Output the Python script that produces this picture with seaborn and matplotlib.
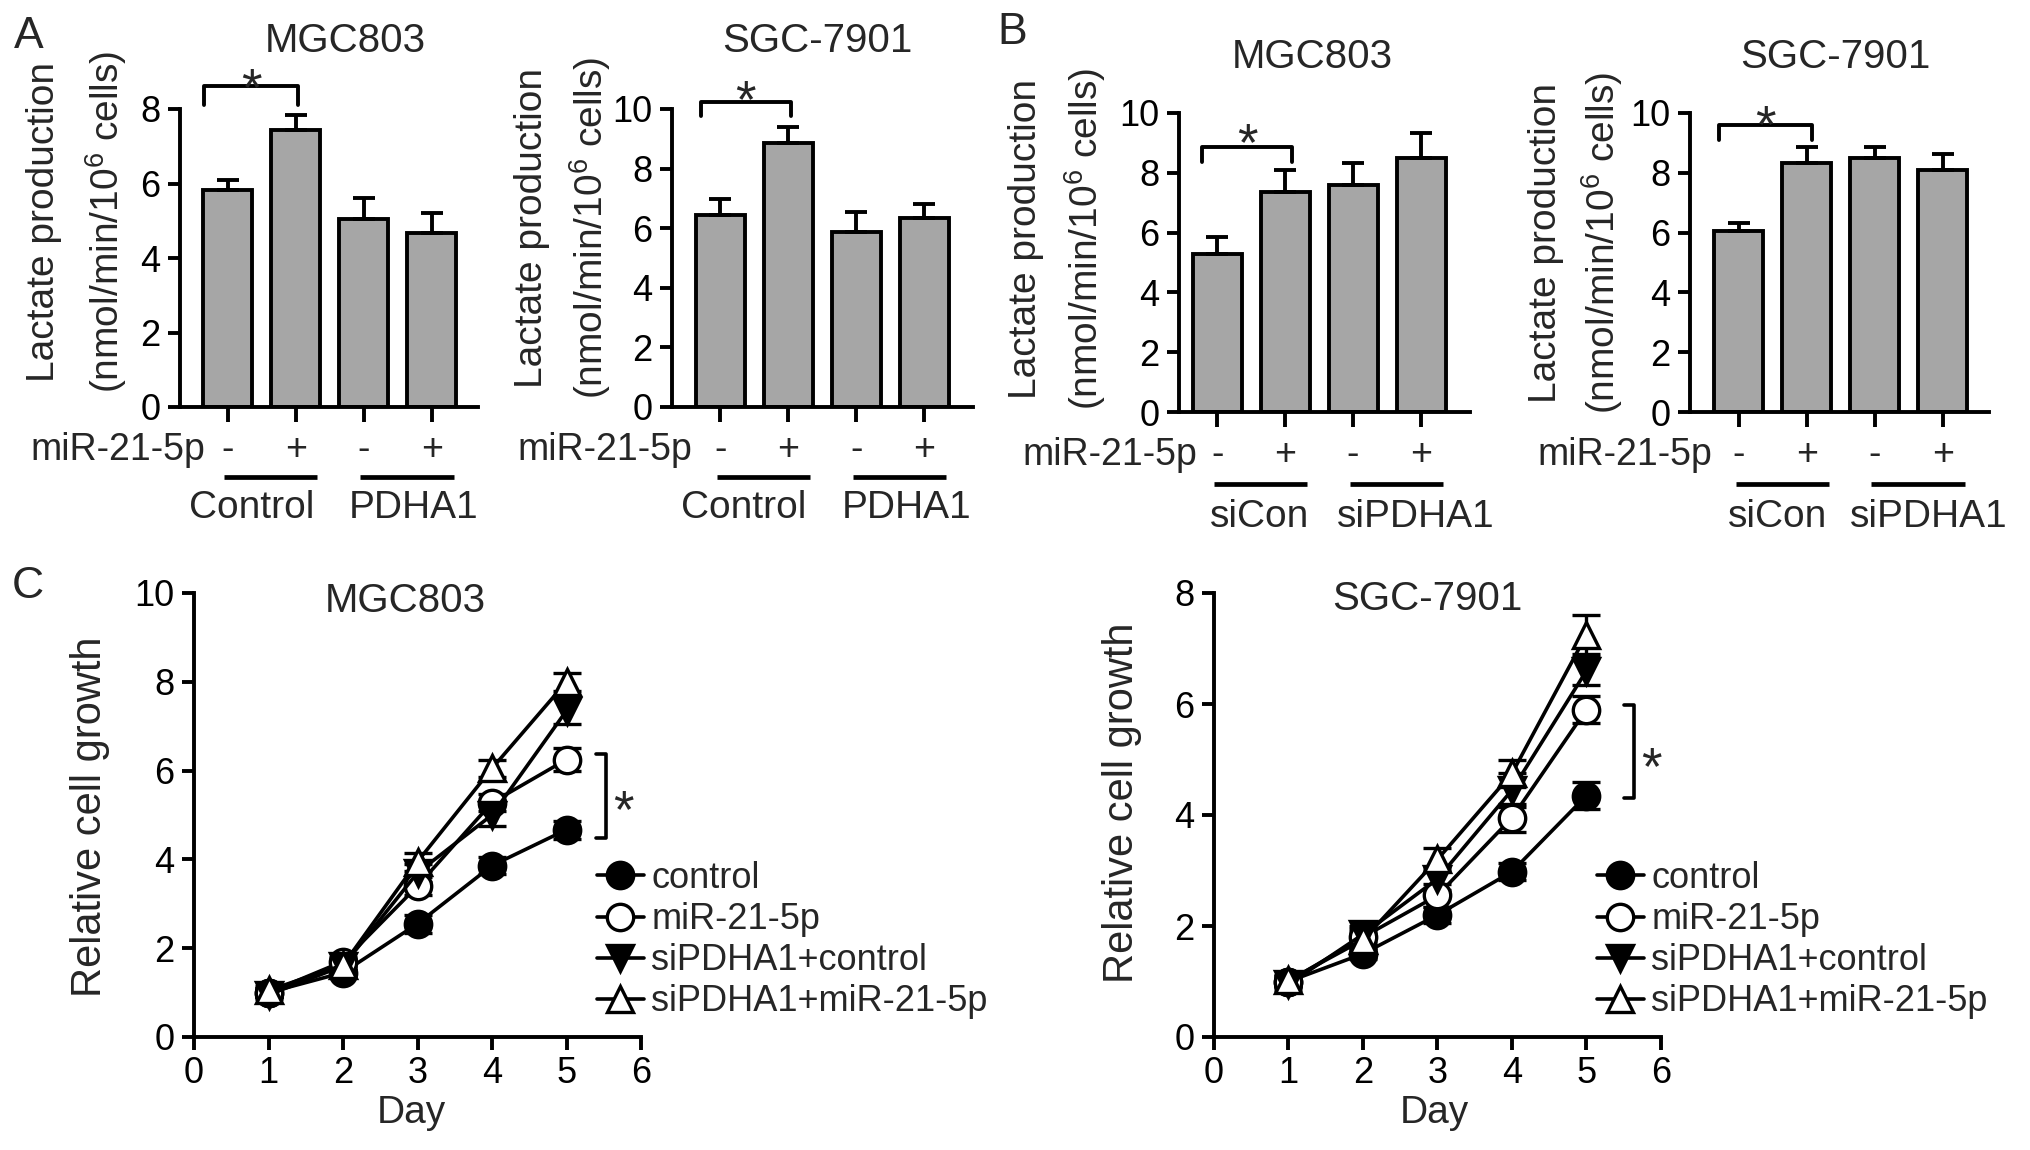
import numpy as np
import pandas as pd
import matplotlib
matplotlib.use('Agg')
import matplotlib.pyplot as plt
import matplotlib.transforms as mtrans
from matplotlib.lines import Line2D
import seaborn as sns

# ---------------- data ----------------
bar_groups = ['ctrl_minus', 'ctrl_plus', 'grp_minus', 'grp_plus']
mir_signs = ['-', '+', '-', '+']
a_group_labels = ['Control', 'PDHA1']
b_group_labels = ['siCon', 'siPDHA1']

a_mgc_vals = [5.83, 7.43, 5.06, 4.66]
a_mgc_err = [0.26, 0.42, 0.54, 0.54]
a_sgc_vals = [6.43, 8.86, 5.87, 6.35]
a_sgc_err = [0.54, 0.54, 0.66, 0.45]
b_mgc_vals = [5.30, 7.37, 7.58, 8.51]
b_mgc_err = [0.54, 0.71, 0.74, 0.81]
b_sgc_vals = [6.06, 8.33, 8.51, 8.08]
b_sgc_err = [0.26, 0.54, 0.36, 0.55]

days = [1, 2, 3, 4, 5]
series_names = ['control', 'miR-21-5p', 'siPDHA1+control', 'siPDHA1+miR-21-5p']
c_mgc_control = [1.00, 1.45, 2.55, 3.86, 4.67]
c_mgc_mir = [1.00, 1.70, 3.40, 5.28, 6.25]
c_mgc_si_control = [0.95, 1.60, 3.70, 5.00, 7.35]
c_mgc_si_mir = [1.05, 1.62, 3.95, 6.05, 8.00]
c_mgc_control_err = [0.10, 0.10, 0.20, 0.20, 0.20]
c_mgc_mir_err = [0.10, 0.10, 0.20, 0.20, 0.25]
c_mgc_si_control_err = [0.10, 0.10, 0.20, 0.25, 0.30]
c_mgc_si_mir_err = [0.10, 0.10, 0.20, 0.20, 0.20]

c_sgc_control = [1.00, 1.50, 2.20, 2.98, 4.35]
c_sgc_mir = [1.00, 1.80, 2.55, 3.95, 5.90]
c_sgc_si_control = [0.95, 1.85, 2.85, 4.45, 6.60]
c_sgc_si_mir = [1.02, 1.75, 3.20, 4.75, 7.25]
c_sgc_control_err = [0.10, 0.10, 0.15, 0.15, 0.25]
c_sgc_mir_err = [0.10, 0.15, 0.20, 0.25, 0.25]
c_sgc_si_control_err = [0.10, 0.15, 0.20, 0.30, 0.25]
c_sgc_si_mir_err = [0.10, 0.15, 0.20, 0.25, 0.35]

# ---------------- style ----------------
sns.set_theme(style='ticks')
plt.rcParams['font.family'] = ['Liberation Sans', 'DejaVu Sans']
plt.rcParams['mathtext.fontset'] = 'custom'
plt.rcParams['mathtext.rm'] = 'Liberation Sans'

W, H = 2031, 1150
fig = plt.figure(figsize=(W / 100, H / 100), dpi=100)
fig.patch.set_facecolor('white')

LW = 2.8
TICK_FS = 26
BAR_COLOR = '#a6a6a6'
STAR_FS = 38


def fy(px):
    return 1 - px / H


def fx(px):
    return px / W


def make_ax(left, right, bottom, top):
    return fig.add_axes([left / W, 1 - bottom / H, (right - left) / W, (bottom - top) / H])


def style_axis(ax):
    sns.despine(ax=ax)
    for s in ['left', 'bottom']:
        ax.spines[s].set_linewidth(LW)
        ax.spines[s].set_color('black')
    ax.tick_params(axis='both', direction='out', length=9, width=LW,
                   labelsize=TICK_FS, color='black', labelcolor='black', pad=5)
    ax.set_facecolor('white')


def bar_panel(ax, vals, errs, ymax, xlim, ystep, title, title_xy, groups, group_x,
              sign_y, line_y, group_y, mir_right, bracket, ylab_x, ylab_y):
    df = pd.DataFrame({'g': bar_groups, 'v': vals})
    sns.barplot(data=df, x='g', y='v', color=BAR_COLOR, saturation=1,
                edgecolor='black', linewidth=LW, width=0.72, errorbar=None, ax=ax)
    x = np.arange(len(vals))
    ax.errorbar(x, vals, yerr=[np.zeros(len(vals)), errs], fmt='none', ecolor='black',
                elinewidth=LW, capsize=8, capthick=LW, zorder=3)
    ax.set_xlim(*xlim)
    ax.set_ylim(0, ymax)
    ax.set_yticks(np.arange(0, ymax + 0.01, ystep))
    ax.set_xticks(x)
    ax.set_xticklabels([])
    ax.set_xlabel('')
    ax.set_ylabel('')
    style_axis(ax)
    ax.tick_params(axis='x', length=11)
    blend = mtrans.blended_transform_factory(ax.transData, fig.transFigure)
    for i, s in enumerate(mir_signs):
        ax.text(i, fy(sign_y), s, transform=blend, ha='center', va='center', fontsize=27)
    fig.text(fx(mir_right), fy(sign_y), 'miR-21-5p', ha='right', va='center', fontsize=27)
    for k, (a, b) in enumerate([(-0.05, 1.32), (1.95, 3.32)]):
        ax.plot([a, b], [fy(line_y), fy(line_y)], transform=blend, color='black',
                lw=3.4, clip_on=False, solid_capstyle='butt')
        ax.text(group_x[k], fy(group_y), groups[k], transform=blend, ha='center',
                va='center', fontsize=28)
    bx0, bx1, btop, bleg, bstar = bracket
    ax.plot([bx0, bx0, bx1, bx1], [fy(bleg), fy(btop), fy(btop), fy(bleg)],
            transform=blend, color='black', lw=LW, clip_on=False)
    ax.text((bx0 + bx1) / 2, fy(bstar), '*', transform=blend, ha='center',
            va='baseline', fontsize=STAR_FS)
    fig.text(fx(title_xy[0]), fy(title_xy[1]), title, ha='center', va='center', fontsize=29)
    fig.text(fx(ylab_x[0]), fy(ylab_y), 'Lactate production', rotation=90,
             ha='center', va='center', fontsize=28)
    fig.text(fx(ylab_x[1]), fy(ylab_y), '(nmol/min/10$^{\\mathregular{6}}$ cells)',
             rotation=90, ha='center', va='center', fontsize=28)


# Panel A
axA1 = make_ax(180, 478, 407, 109)
bar_panel(axA1, a_mgc_vals, a_mgc_err, 8, (-0.7, 3.68), 2, 'MGC803', (345, 41),
          a_group_labels, (0.35, 2.73), 450, 477, 508, 205,
          (-0.34, 1.03, 86, 105, 105), (44, 106), 222)
axA2 = make_ax(672, 973, 407, 109)
bar_panel(axA2, a_sgc_vals, a_sgc_err, 10, (-0.71, 3.72), 2, 'SGC-7901', (817, 41),
          a_group_labels, (0.34, 2.74), 450, 477, 508, 692,
          (-0.29, 1.04, 102, 116, 117), (532, 590), 228)

# Panel B
axB1 = make_ax(1179, 1470, 412, 113)
bar_panel(axB1, b_mgc_vals, b_mgc_err, 10, (-0.56, 3.72), 2, 'MGC803', (1312, 57),
          b_group_labels, (0.63, 2.92), 455, 484, 517, 1197,
          (-0.22, 1.10, 147, 162, 160), (1026, 1085), 239)
axB2 = make_ax(1690, 1989, 412, 113)
bar_panel(axB2, b_sgc_vals, b_sgc_err, 10, (-0.72, 3.68), 2, 'SGC-7901', (1835, 57),
          b_group_labels, (0.57, 2.80), 455, 484, 517, 1712,
          (-0.29, 1.07, 125, 140, 142), (1546, 1602), 243)

fig.text(fx(29), fy(36), 'A', ha='center', va='center', fontsize=32)
fig.text(fx(1012), fy(32), 'B', ha='center', va='center', fontsize=32)
fig.text(fx(28), fy(586), 'C', ha='center', va='center', fontsize=32)

# Panel C
markers = ['o', 'o', 'v', '^']
faces = ['black', 'white', 'black', 'white']
MS = 19


def line_panel(ax, ys, es, ymax, title, title_xy, sig, legend_anchor, ylab_xy, day_xy):
    for k in range(4):
        ax.errorbar(days, ys[k], yerr=es[k], fmt='none', ecolor='black', elinewidth=2.4,
                    capsize=10, capthick=2.4, zorder=2)
    for k in range(4):
        sns.lineplot(x=days, y=ys[k], ax=ax, color='black', linewidth=2.6,
                     marker=markers[k], markersize=MS, markerfacecolor=faces[k],
                     markeredgecolor='black', markeredgewidth=2.4, zorder=3 + k)
    ax.set_xlim(0, 6)
    ax.set_ylim(0, ymax)
    ax.set_xticks(range(0, 7))
    ax.set_yticks(np.arange(0, ymax + 0.01, 2))
    ax.set_xlabel('')
    ax.set_ylabel('')
    style_axis(ax)
    sx, sx_tick, sy0, sy1, starx, stary = sig
    ax.plot([sx_tick, sx, sx, sx_tick], [sy1, sy1, sy0, sy0], color='black', lw=2.6,
            clip_on=False)
    fig.text(fx(starx), fy(stary), '*', ha='center', va='baseline', fontsize=STAR_FS)
    handles = [Line2D([0], [0], color='black', lw=2.6, marker=markers[k], markersize=MS,
                      markerfacecolor=faces[k], markeredgecolor='black',
                      markeredgewidth=2.4) for k in range(4)]
    ax.legend(handles, series_names, loc='upper left', bbox_to_anchor=legend_anchor,
              bbox_transform=fig.transFigure, frameon=False, fontsize=26,
              handlelength=1.3, handletextpad=0.2, labelspacing=0.17, borderpad=0,
              borderaxespad=0)
    fig.text(fx(title_xy[0]), fy(title_xy[1]), title, ha='center', va='center', fontsize=29)
    fig.text(fx(ylab_xy[0]), fy(ylab_xy[1]), 'Relative cell growth', rotation=90,
             ha='center', va='center', fontsize=30)
    fig.text(fx(day_xy[0]), fy(day_xy[1]), 'Day', ha='center', va='center', fontsize=28)


axC1 = make_ax(194, 641, 1037, 593)
line_panel(axC1,
           [c_mgc_control, c_mgc_mir, c_mgc_si_control, c_mgc_si_mir],
           [c_mgc_control_err, c_mgc_mir_err, c_mgc_si_control_err, c_mgc_si_mir_err],
           10, 'MGC803', (405, 601), (5.53, 5.39, 6.37, 4.48, 623, 827),
           (fx(597), fy(861)), (90, 817), (411, 1113))

axC2 = make_ax(1214, 1661, 1037, 593)
line_panel(axC2,
           [c_sgc_control, c_sgc_mir, c_sgc_si_control, c_sgc_si_mir],
           [c_sgc_control_err, c_sgc_mir_err, c_sgc_si_control_err, c_sgc_si_mir_err],
           8, 'SGC-7901', (1427, 599), (5.64, 5.50, 5.98, 4.31, 1651, 784),
           (fx(1597), fy(861)), (1122, 803), (1434, 1113))

fig.savefig('out.png', dpi=100, facecolor='white')
